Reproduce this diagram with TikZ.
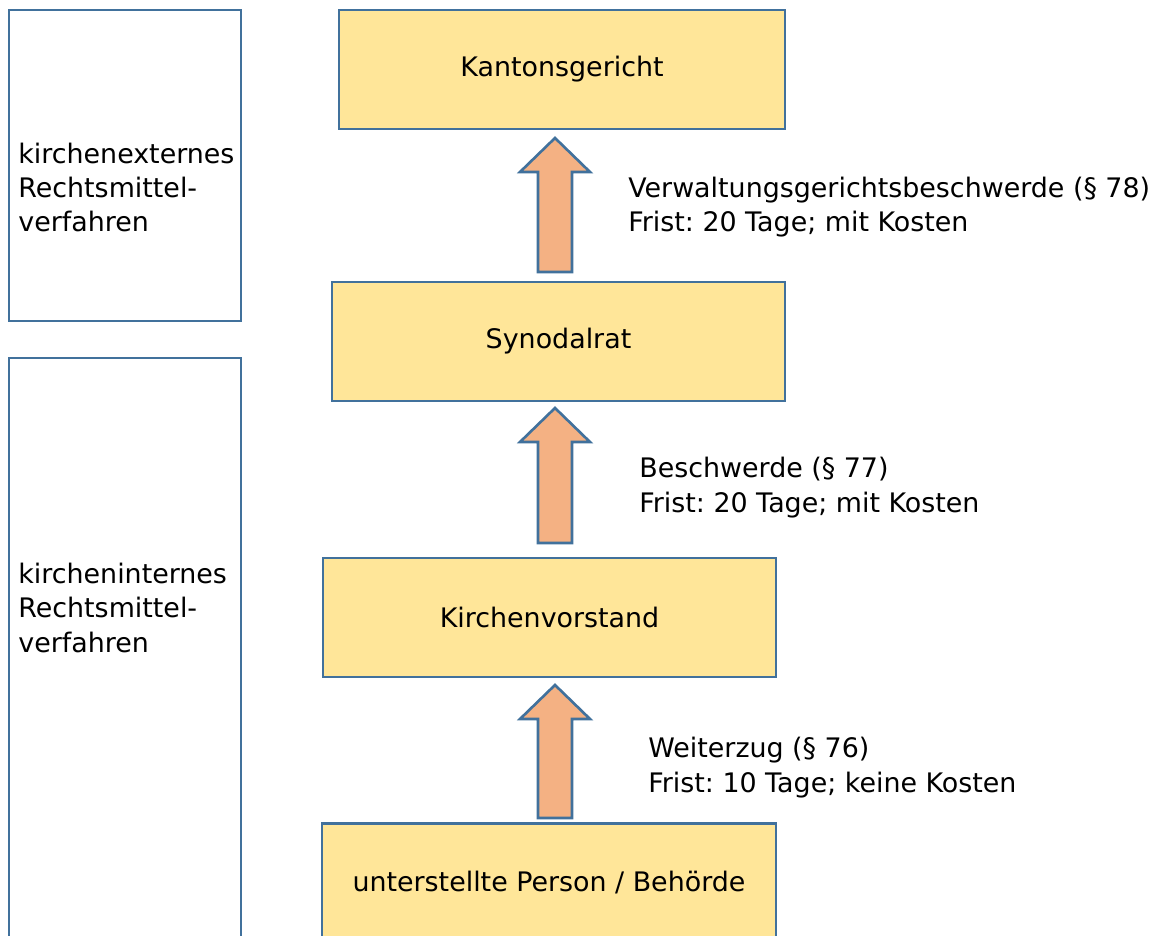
\documentclass[tikz,border=0pt]{standalone}
\usepackage{fontspec}
\setmainfont{DejaVu Sans}
\usetikzlibrary{positioning,calc}
\frenchspacing

\definecolor{boxfill}{HTML}{FFE699}
\definecolor{boxline}{HTML}{41719C}
\definecolor{arrowfill}{HTML}{F4B183}

\newcommand{\blockarrow}[2]{%
    \draw[arrowshape] ($(#1)+(-17,0)$) -- ($(#2)+(-17,34)$) -- ($(#2)+(-35,34)$)
        -- (#2) -- ($(#2)+(35,34)$) -- ($(#2)+(17,34)$) -- ($(#1)+(17,0)$) -- cycle;}

\begin{document}
\begin{tikzpicture}[
    x=0.02cm, y=-0.02cm,
    every node/.style={font=\fontsize{15.3}{19.4}\selectfont},
    stagebox/.style={rectangle, draw=boxline, fill=boxfill, line width=1.5pt, minimum width=9.06cm, minimum height=2.38cm},
    sidebox/.style={rectangle, draw=boxline, line width=1.5pt, minimum width=4.64cm},
    sidetext/.style={anchor=base west, align=left, inner sep=0pt},
    steplabel/.style={anchor=base west, align=left, inner sep=0pt},
    arrowshape/.style={draw=boxline, fill=arrowfill, line width=1.5pt, line join=miter}
    ]
        \clip (0,0) rectangle (1161,936);

        %Side boxes
        \node[sidebox, minimum height=6.22cm]
            (extbox) at (125,165.5) {};
        \node[sidebox, minimum height=12.04cm]
            (intbox) at (125,659) {};
        \node[sidetext]
            (exttext) at (18,232) {kirchenexternes\\Rechtsmittel-\\verfahren};
        \node[sidetext]
            (inttext) at (18,652) {kircheninternes\\Rechtsmittel-\\verfahren};

        %Stages
        \node[stagebox, minimum width=8.92cm]
            (kanton) at (562,69.5)  {Kantonsgericht};
        \node[stagebox]
            (synod) at (558.5,341.5) {Synodalrat};
        \node[stagebox]
            (vorstand) at (549.5,617.5) {Kirchenvorstand};
        \node[stagebox, minimum width=9.08cm]
            (person) at (549,883) {unterstellte Person / Behörde};

        %Arrows
        \coordinate (foot1) at (555,272);
        \coordinate (tip1)  at (555,138);
        \coordinate (foot2) at (555,543);
        \coordinate (tip2)  at (555,408);
        \coordinate (foot3) at (555,818);
        \coordinate (tip3)  at (555,685);
        \blockarrow{foot1}{tip1}
        \blockarrow{foot2}{tip2}
        \blockarrow{foot3}{tip3}

        %Labels
        \node[steplabel]
            (lab1) at (628,232) {Verwaltungsgerichtsbeschwerde (§ 78)\\Frist: 20 Tage; mit Kosten};
        \node[steplabel]
            (lab2) at (639,512) {Beschwerde (§ 77)\\Frist: 20 Tage; mit Kosten};
        \node[steplabel]
            (lab3) at (648,792) {Weiterzug (§ 76)\\Frist: 10 Tage; keine Kosten};
\end{tikzpicture}
\end{document}
